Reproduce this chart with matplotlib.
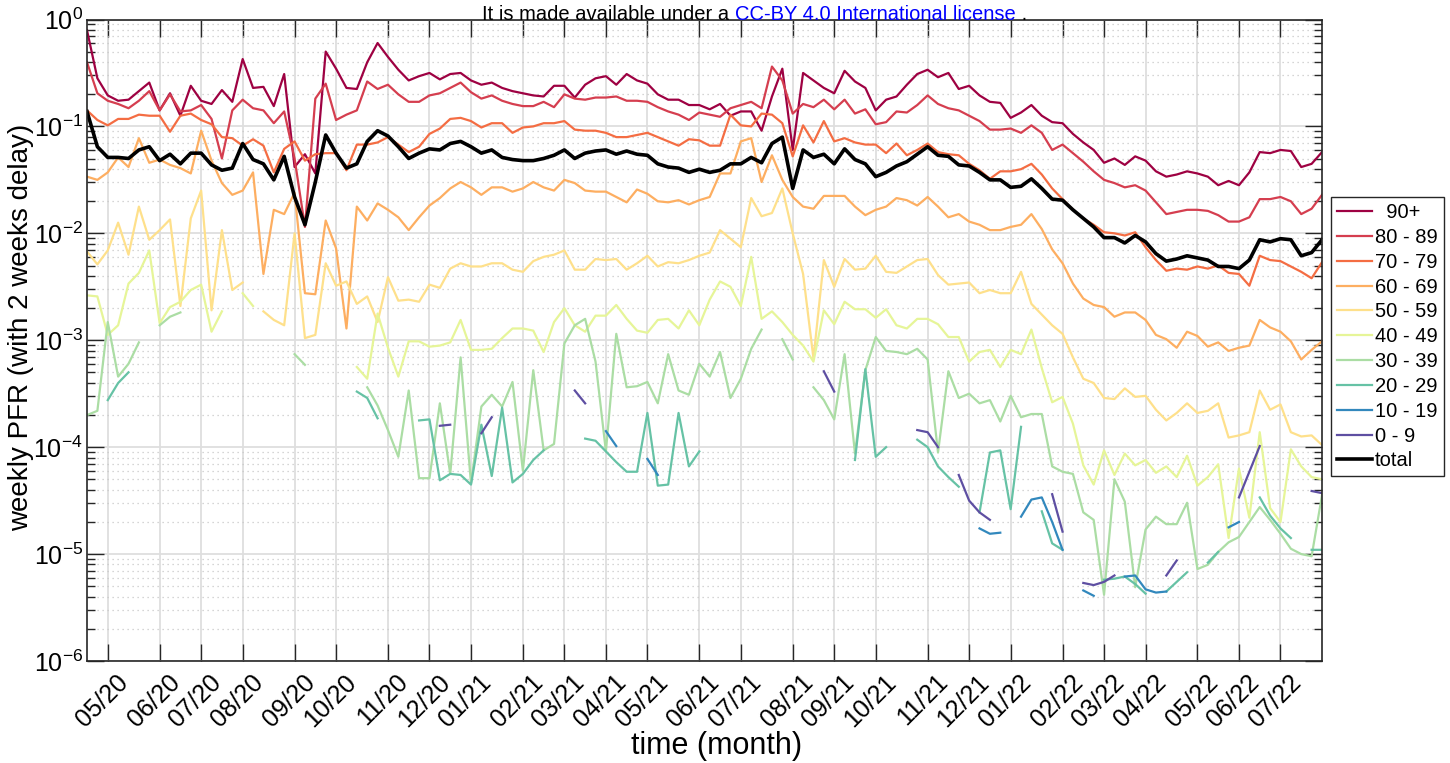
import numpy as np
import pandas as pd
import matplotlib
matplotlib.use('Agg')
import matplotlib.pyplot as plt
import matplotlib.dates as mdates
import matplotlib.transforms as mtransforms
from matplotlib.ticker import LogLocator, NullLocator, NullFormatter

nan = np.nan

# weekly time points (saturdays)
weeks = pd.date_range('2020-04-18', periods=120, freq='7D')

# log10 of the weekly PFR per age group (nan = gap)
log_90 = [-0.10, -0.55, -0.71, -0.76, -0.75, -0.67, -0.59, -0.85, -0.69, -0.90,
          -0.62, -0.76, -0.79, -0.66, -0.77, -0.37, -0.64, -0.63, -0.81, -0.51,
          -1.38, -1.26, -1.44, -0.30, -0.46, -0.64, -0.65, -0.40, -0.22, -0.35,
          -0.47, -0.57, -0.53, -0.50, -0.56, -0.51, -0.50, -0.57, -0.61, -0.59,
          -0.64, -0.67, -0.69, -0.71, -0.72, -0.62, -0.62, -0.73, -0.61, -0.55,
          -0.53, -0.61, -0.51, -0.57, -0.60, -0.70, -0.75, -0.75, -0.80, -0.80,
          -0.84, -0.79, -0.90, -0.86, -0.86, -1.04, -0.72, -0.46, -1.22, -0.50,
          -0.57, -0.64, -0.69, -0.48, -0.58, -0.64, -0.85, -0.75, -0.72, -0.61,
          -0.51, -0.47, -0.54, -0.50, -0.65, -0.62, -0.71, -0.77, -0.78, -0.92,
          -0.87, -0.80, -0.90, -0.96, -0.97, -1.07, -1.15, -1.22, -1.34, -1.30,
          -1.36, -1.28, -1.32, -1.42, -1.47, -1.45, -1.42, -1.44, -1.47, -1.55,
          -1.51, -1.55, -1.43, -1.24, -1.25, -1.22, -1.23, -1.38, -1.35, -1.24]

log_80 = [-0.40, -0.69, -0.76, -0.79, -0.83, -0.76, -0.67, -0.85, -0.70, -0.86,
          -0.85, -0.80, -0.93, -1.30, -0.85, -0.75, -0.83, -0.85, -0.97, -0.86,
          -1.30, -1.94, -0.74, -0.60, -0.94, -0.89, -0.85, -0.58, -0.65, -0.61,
          -0.70, -0.77, -0.77, -0.71, -0.69, -0.64, -0.59, -0.68, -0.74, -0.71,
          -0.76, -0.79, -0.81, -0.81, -0.77, -0.82, -0.70, -0.74, -0.75, -0.73,
          -0.73, -0.72, -0.76, -0.76, -0.77, -0.82, -0.86, -0.89, -0.94, -0.87,
          -0.89, -0.91, -0.83, -0.80, -0.77, -0.83, -0.44, -0.57, -0.88, -0.79,
          -0.82, -0.75, -0.84, -0.75, -0.88, -0.84, -0.98, -0.96, -0.86, -0.87,
          -0.80, -0.71, -0.79, -0.83, -0.85, -0.90, -0.95, -1.03, -1.03, -1.02,
          -1.06, -0.99, -1.06, -1.22, -1.17, -1.25, -1.33, -1.42, -1.50, -1.53,
          -1.57, -1.55, -1.60, -1.71, -1.82, -1.80, -1.78, -1.78, -1.79, -1.83,
          -1.89, -1.89, -1.85, -1.68, -1.68, -1.66, -1.70, -1.82, -1.77, -1.64]

log_70 = [-0.85, -0.94, -0.99, -0.93, -0.93, -0.89, -0.90, -0.90, -1.05, -0.90,
          -0.88, -0.94, -0.98, -1.10, -1.11, -1.18, -1.12, -1.18, -1.43, -1.21,
          -1.14, -1.32, -1.26, -1.25, -1.25, -1.41, -1.17, -1.17, -1.15, -1.10,
          -1.17, -1.24, -1.19, -1.07, -1.02, -0.93, -0.92, -0.95, -1.01, -0.97,
          -0.97, -1.06, -1.01, -1.00, -0.97, -0.97, -0.95, -1.03, -1.04, -1.04,
          -1.06, -1.10, -1.10, -1.08, -1.06, -1.10, -1.14, -1.18, -1.12, -1.13,
          -1.18, -1.18, -0.89, -0.99, -1.00, -0.88, -0.89, -0.97, -1.28, -0.99,
          -1.15, -0.95, -1.14, -1.11, -1.15, -1.17, -1.17, -1.25, -1.16, -1.27,
          -1.22, -1.16, -1.24, -1.26, -1.27, -1.35, -1.41, -1.49, -1.42, -1.42,
          -1.40, -1.35, -1.45, -1.58, -1.68, -1.78, -1.86, -1.92, -1.99, -2.00,
          -2.02, -1.99, -2.13, -2.25, -2.35, -2.33, -2.34, -2.31, -2.33, -2.30,
          -2.37, -2.38, -2.49, -2.21, -2.25, -2.26, -2.31, -2.36, -2.42, -2.27]

log_60 = [-1.47, -1.50, -1.43, -1.29, -1.38, -1.11, -1.34, -1.31, -1.36, -1.39,
          -1.44, -1.04, -1.32, -1.53, -1.64, -1.60, -1.43, -2.38, -1.78, -1.82,
          -1.62, -2.56, -2.57, -1.88, -2.14, -2.89, -1.75, -1.88, -1.72, -1.78,
          -1.85, -1.97, -1.85, -1.74, -1.67, -1.58, -1.52, -1.57, -1.64, -1.57,
          -1.57, -1.61, -1.58, -1.52, -1.57, -1.60, -1.50, -1.53, -1.60, -1.61,
          -1.61, -1.66, -1.71, -1.59, -1.63, -1.70, -1.71, -1.69, -1.73, -1.69,
          -1.66, -1.44, -1.44, -1.14, -1.11, -1.52, -1.27, -1.50, -1.66, -1.75,
          -1.77, -1.65, -1.65, -1.65, -1.75, -1.83, -1.78, -1.75, -1.67, -1.69,
          -1.74, -1.66, -1.75, -1.85, -1.82, -1.89, -1.92, -1.97, -1.97, -1.94,
          -1.92, -1.82, -1.96, -2.15, -2.28, -2.47, -2.61, -2.67, -2.69, -2.78,
          -2.74, -2.74, -2.81, -2.95, -2.99, -3.07, -2.92, -2.96, -3.06, -3.02,
          -3.10, -3.07, -3.05, -2.81, -2.88, -2.92, -3.01, -3.18, -3.09, -3.01]

log_50 = [-2.17, -2.29, -2.16, -1.90, -2.20, -1.75, -2.06, -1.97, -1.87, -2.68,
          -1.86, -1.60, -2.72, -1.97, -2.53, -2.46, nan, -2.73, -2.81, -2.86,
          -2.00, -2.98, -2.95, -2.28, -2.49, -2.45, -2.66, -2.59, -2.83, -2.41,
          -2.63, -2.62, -2.64, -2.48, -2.51, -2.33, -2.28, -2.31, -2.31, -2.28,
          -2.28, -2.34, -2.36, -2.26, -2.22, -2.20, -2.16, -2.34, -2.34, -2.24,
          -2.25, -2.24, -2.34, -2.28, -2.21, -2.31, -2.27, -2.28, -2.25, -2.21,
          -2.18, -1.97, -2.05, -2.13, -1.67, -1.84, -1.81, -1.58, -2.00, -2.38,
          -3.17, -2.25, -2.50, -2.24, -2.34, -2.33, -2.21, -2.36, -2.37, -2.31,
          -2.25, -2.24, -2.39, -2.48, -2.47, -2.46, -2.56, -2.53, -2.56, -2.56,
          -2.36, -2.66, -2.76, -2.86, -2.94, -3.16, -3.36, -3.40, -3.54, -3.55,
          -3.45, -3.53, -3.52, -3.65, -3.75, -3.68, -3.59, -3.68, -3.66, -3.59,
          -3.91, -3.89, -3.86, -3.47, -3.65, -3.60, -3.86, -3.90, -3.89, -3.98]

log_40 = [-2.58, -2.59, -2.95, -2.86, -2.47, -2.37, -2.16, -2.84, -2.69, -2.64,
          -2.53, -2.48, -2.92, -2.73, nan, -2.56, -2.68, nan, nan, nan,
          nan, nan, nan, nan, nan, nan, -3.25, -3.36, -2.75, -3.07,
          -3.34, -3.01, -3.01, -3.06, -3.05, -3.02, -2.81, -3.09, -3.09, -3.08,
          -2.98, -2.89, -2.89, -2.91, -3.11, -2.83, -2.70, -2.86, -2.92, -2.77,
          -2.77, -2.67, -2.80, -2.91, -2.93, -2.81, -2.80, -2.89, -2.72, -2.86,
          -2.62, -2.45, -2.50, -2.68, -2.22, -2.80, -2.73, -2.83, -2.95, -3.05,
          -3.20, -2.72, -2.85, -2.64, -2.71, -2.71, -2.79, -2.71, -2.86, -2.89,
          -2.80, -2.80, -2.85, -2.97, -2.97, -3.20, -3.11, -3.09, -3.25, -3.09,
          -3.13, -2.90, -3.26, -3.58, -3.53, -3.78, -4.17, -4.35, -4.03, -4.26,
          -4.06, -4.17, -4.12, -4.24, -4.18, -4.28, -4.08, -4.36, -4.28, -4.16,
          -4.85, -4.20, -4.66, -3.86, -4.57, -4.70, -4.02, -4.18, -4.28, -4.30]

log_30 = [-3.70, -3.66, -2.83, -3.34, -3.22, -3.02, nan, -2.86, -2.78, -2.74,
          nan, nan, nan, nan, nan, nan, nan, nan, nan, nan,
          -3.13, -3.23, nan, nan, nan, nan, nan, -3.44, -3.61, -3.84,
          -4.09, -3.47, -4.29, -4.29, -3.59, -4.25, -3.16, -4.34, -3.62, -3.51,
          -3.62, -3.39, -4.22, -3.28, -4.03, -3.97, -3.03, -2.86, -2.80, -3.20,
          -4.04, -2.94, -3.44, -3.43, -3.39, -3.59, -3.13, -3.47, -3.51, -3.22,
          -3.34, -3.11, -3.54, -3.36, -3.08, -2.90, nan, -2.99, -3.18, nan,
          -3.44, -3.56, -3.74, -3.13, -4.06, -3.28, -2.97, -3.10, -3.11, -3.13,
          -3.08, -3.18, -4.05, -3.29, -3.54, -3.50, -3.59, -3.56, -3.76, -3.52,
          -3.72, -3.69, -3.69, -4.18, -4.23, -4.25, -4.61, -4.68, -5.38, -4.30,
          -4.51, -5.31, -4.77, -4.65, -4.72, -4.72, -4.52, -5.14, -5.10, -4.98,
          -4.89, -4.84, -4.70, -4.56, -4.68, -4.81, -4.95, -5.00, -5.02, -4.45]

log_20 = [nan, nan, -3.56, -3.40, -3.30, nan, nan, nan, nan, nan,
          nan, nan, nan, nan, nan, nan, nan, nan, nan, nan,
          nan, nan, nan, nan, nan, nan, -3.48, -3.54, -3.73, nan,
          nan, nan, -3.75, -3.74, -4.31, -4.25, -4.26, -4.35, -3.79, -4.27,
          -3.63, -4.33, -4.25, -4.12, -4.03, nan, nan, nan, -3.92, -3.94,
          -4.04, -4.14, -4.23, -4.23, -3.68, -4.36, -4.35, -3.68, -4.18, -4.04,
          nan, nan, nan, nan, nan, nan, nan, nan, nan, nan,
          nan, nan, nan, nan, -4.12, -3.27, -4.09, -4.00, nan, nan,
          -3.93, -4.00, -4.18, -4.28, -4.37, nan, -4.61, -4.05, -4.03, -4.58,
          -3.81, nan, -4.60, -4.90, -4.96, nan, nan, nan, -5.24, -5.23,
          -5.21, -5.28, -5.37, nan, -5.35, -5.26, -5.17, nan, -5.08, -4.98,
          nan, nan, nan, -4.47, -4.64, -4.76, -4.85, nan, -4.96, -4.96]

log_10 = [nan] * 50 + [
          -3.85, -3.99, nan, nan, -4.11, -4.26, nan, nan, nan, nan,
          nan, nan, nan, nan, nan, nan, nan, nan, nan, nan,
          nan, nan, nan, nan, nan, nan, nan, nan, nan, nan,
          nan, nan, nan, nan, nan, nan, -4.76, -4.81, -4.80, nan,
          -4.65, -4.49, -4.47, -4.70, -4.96, nan, -5.34, -5.39, nan, nan,
          -5.21, -5.20, -5.33, -5.36, -5.35, nan, nan, nan, nan, nan,
          -4.75, -4.70, nan, nan, nan, nan, nan, nan, nan, nan]

log_0 = [nan] * 30 + [
         nan, nan, nan, nan, -3.80, -3.79, nan, nan, -3.87, -3.72,
         nan, nan, nan, nan, nan, nan, nan, -3.47, -3.59, nan,
         nan, nan, nan, nan, nan, nan, nan, nan, nan, nan,
         nan, nan, nan, nan, nan, nan, nan, nan, nan, nan,
         nan, -3.29, -3.48, nan, nan, nan, nan, nan, nan, nan,
         -3.84, -3.86, -4.00, nan, -4.26, -4.50, -4.61, -4.68, nan, nan,
         nan, nan, nan, -4.44, -4.79, nan, -5.27, -5.29, -5.26, -5.20,
         nan, nan, nan, nan, -5.20, -5.06, nan, nan, nan, nan,
         nan, -4.47, -4.23, -3.99, nan, nan, nan, nan, -4.41, -4.43]

log_total = [-0.86, -1.19, -1.29, -1.29, -1.30, -1.22, -1.19, -1.32, -1.26, -1.35,
             -1.25, -1.25, -1.36, -1.41, -1.39, -1.16, -1.31, -1.35, -1.50, -1.28,
             -1.66, -1.92, -1.52, -1.08, -1.25, -1.39, -1.35, -1.14, -1.04, -1.09,
             -1.19, -1.30, -1.25, -1.21, -1.22, -1.16, -1.14, -1.19, -1.25, -1.22,
             -1.29, -1.31, -1.32, -1.32, -1.30, -1.27, -1.22, -1.30, -1.25, -1.23,
             -1.22, -1.26, -1.23, -1.26, -1.27, -1.35, -1.38, -1.39, -1.43, -1.40,
             -1.43, -1.41, -1.35, -1.35, -1.29, -1.34, -1.16, -1.10, -1.58, -1.22,
             -1.29, -1.26, -1.35, -1.21, -1.31, -1.35, -1.47, -1.43, -1.37, -1.33,
             -1.26, -1.19, -1.27, -1.28, -1.36, -1.37, -1.43, -1.50, -1.50, -1.57,
             -1.56, -1.49, -1.58, -1.68, -1.69, -1.78, -1.86, -1.94, -2.04, -2.04,
             -2.09, -2.02, -2.08, -2.19, -2.26, -2.24, -2.21, -2.23, -2.25, -2.31,
             -2.31, -2.33, -2.25, -2.06, -2.08, -2.05, -2.06, -2.21, -2.18, -2.06]

group_labels = ['  90+', '80 - 89', '70 - 79', '60 - 69', '50 - 59',
                '40 - 49', '30 - 39', '20 - 29', '10 - 19', '0 - 9']
group_logs = [log_90, log_80, log_70, log_60, log_50,
              log_40, log_30, log_20, log_10, log_0]
group_colors = ['#9e0142', '#d53e4f', '#f46d43', '#fdae61', '#fee08b',
                '#e6f598', '#abdda4', '#66c2a5', '#3288bd', '#5e4fa2']

plt.rcParams['font.family'] = ['Liberation Sans', 'DejaVu Sans']
plt.rcParams['mathtext.fontset'] = 'custom'
plt.rcParams['mathtext.rm'] = 'Liberation Sans'
plt.rcParams['mathtext.it'] = 'Liberation Sans:italic'
plt.rcParams['mathtext.bf'] = 'Liberation Sans:bold'

W, H = 1450, 763
fig = plt.figure(figsize=(W / 100, H / 100), dpi=100)
ax = fig.add_axes([87 / W, 1 - 661 / H, (1322 - 87) / W, (661 - 19.5) / H])

for vals, lab, col in zip(group_logs, group_labels, group_colors):
    ax.plot(weeks, np.power(10.0, np.array(vals)), color=col, lw=1.6, label=lab)
ax.plot(weeks, np.power(10.0, np.array(log_total)), color='black', lw=2.6, label='total')

ax.set_yscale('log')
ax.set_ylim(1e-6, 1)
ax.set_xlim(weeks[0], weeks[-1])

# x ticks at the first week of each month; labels drawn as rotated texts
tick_dates = weeks[weeks.day <= 7]
ax.set_xticks(tick_dates)
ax.set_xticklabels([])
ax.xaxis.set_minor_locator(NullLocator())
lbl_trans = ax.get_xaxis_transform() + mtransforms.ScaledTranslation(
    0.08, -0.09, fig.dpi_scale_trans)
for d in tick_dates:
    ax.text(mdates.date2num(d), 0, d.strftime('%m/%y'), transform=lbl_trans,
            rotation=45, ha='right', va='top', rotation_mode='anchor',
            fontsize=18, clip_on=False)

ax.yaxis.set_major_locator(LogLocator(base=10, numticks=10))
ax.yaxis.set_minor_locator(LogLocator(base=10, subs=np.arange(2, 10), numticks=100))
ax.yaxis.set_minor_formatter(NullFormatter())

ax.tick_params(which='both', direction='in', top=True, right=True, color='#262626')
ax.tick_params(which='major', length=12, width=1.0)
ax.tick_params(which='minor', length=6, width=1.0)
ax.tick_params(axis='y', which='major', pad=3, labelsize=18)

ax.set_axisbelow(True)
ax.grid(True, which='major', color='#dedede', lw=1.3, ls='-')
ax.grid(True, which='minor', axis='y', color='#c8c8c8', lw=0.9, ls=(0, (1, 3)))
for sp in ax.spines.values():
    sp.set_color('#262626')
    sp.set_linewidth(1.2)

ax.set_xlabel('time (month)', fontsize=22)
ax.xaxis.set_label_coords(0.51, -0.133)
ax.xaxis.label.set_va('center')
ax.set_ylabel('weekly PFR (with 2 weeks delay)', fontsize=20)
ax.yaxis.set_label_coords(-0.053, 0.52)
ax.yaxis.label.set_va('center')

leg = ax.legend(loc='upper left', bbox_to_anchor=(1.007, 0.7233), borderaxespad=0,
                frameon=True, fancybox=False, edgecolor='#262626', framealpha=1,
                fontsize=14.5, handlelength=1.75, handletextpad=0.15,
                labelspacing=0.29, borderpad=0.3)
leg.get_frame().set_linewidth(1.0)

# overlay licence line at the top, partly blue
fig.canvas.draw()
rend = fig.canvas.get_renderer()
ty = 1 - 14 / H
t1 = fig.text(482 / W, ty, 'It is made available under a ', fontsize=14.5,
              color='black', va='center')
x1 = t1.get_window_extent(rend).x1 / W
t2 = fig.text(x1, ty, 'CC-BY 4.0 International license', fontsize=14.5,
              color='blue', va='center')
x2 = t2.get_window_extent(rend).x1 / W
fig.text(x2, ty, ' .', fontsize=14.5, color='black', va='center')

fig.savefig('out.png', dpi=100)
